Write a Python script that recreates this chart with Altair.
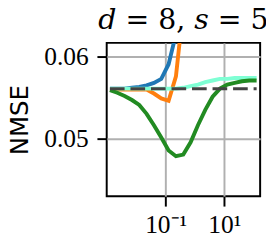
import altair as alt
import pandas as pd

# x positions (log scale)
x_vals = [0.001259, 0.002239, 0.003981, 0.007079, 0.012589, 0.022387, 0.039811,
          0.070795, 0.125893, 0.223872, 0.398107, 0.707946, 1.258925, 2.238721,
          3.981072, 7.079458, 12.589254, 22.387211, 39.810717, 70.794578, 125.892541]

blue_vals = [0.0561, 0.0561, 0.0561, 0.0562, 0.0563, 0.0565, 0.0568, 0.0573, 0.0591, 0.0628, 0.0750]
orange_vals = [0.0560, 0.0560, 0.0560, 0.0560, 0.0560, 0.0560, 0.0555, 0.0549, 0.0546, 0.0576, 0.0660]
cyan_vals = [0.0561, 0.0561, 0.0561, 0.0561, 0.0561, 0.0561, 0.0561, 0.0561, 0.0561, 0.0561,
             0.0562, 0.0564, 0.0566, 0.0569, 0.0571, 0.0573, 0.0573, 0.0574, 0.0574, 0.0574, 0.0574]
green_vals = [0.0559, 0.0556, 0.0552, 0.0547, 0.0541, 0.0530, 0.0516, 0.0501, 0.0485, 0.0478,
              0.0480, 0.0495, 0.0516, 0.0535, 0.0551, 0.0561, 0.0566, 0.0568, 0.0570, 0.0571, 0.0571]
baseline_val = 0.05608

title_text = "𝑑 = 8, 𝑠 = 5"
y_ticks = [0.05, 0.06]
x_ticks = [0.1, 10]
x_domain = [0.000977, 166.0]
y_domain = [0.04287, 0.06172]

series = [
    ("blue", blue_vals, "#1f77b4"),
    ("orange", orange_vals, "#ff7f0e"),
    ("cyan", cyan_vals, "#7fffd4"),
    ("green", green_vals, "#228b22"),
]

W, H = 157, 157

xs = alt.X("x:Q", scale=alt.Scale(type="log", domain=x_domain, nice=False),
           axis=alt.Axis(values=x_ticks, title=None,
                         labelExpr="datum.value < 1 ? '10⁻¹' : '10¹'",
                         labelPadding=6))
ys = alt.Y("y:Q", scale=alt.Scale(domain=y_domain, nice=False, zero=False),
           axis=alt.Axis(values=y_ticks, format=".2f", title="NMSE",
                         titleFont="DejaVu Sans", titleFontSize=25,
                         titleFontWeight="normal", titlePadding=12,
                         labelPadding=9))

layers = []
for name, vals, col in series:
    df = pd.DataFrame({"x": x_vals[:len(vals)], "y": vals})
    layers.append(
        alt.Chart(df).mark_line(color=col, strokeWidth=4, clip=True).encode(x=xs, y=ys)
    )

base_df = pd.DataFrame({"x": [x_vals[0], x_vals[-1]], "y": [baseline_val, baseline_val]})
layers.append(
    alt.Chart(base_df).mark_line(color="#444444", strokeWidth=3.2, strokeDash=[15, 6],
                                 clip=True).encode(x=xs, y=ys)
)

title_df = pd.DataFrame({"t": [title_text]})
layers.append(
    alt.Chart(title_df).mark_text(font="DejaVu Serif", fontSize=29, color="black",
                                  align="center", baseline="alphabetic").encode(
        text="t:N", x=alt.value(W / 2), y=alt.value(-14))
)

chart = alt.layer(*layers).properties(
    width=W, height=H,
    autosize=alt.AutoSizeParams(type="none"),
    padding={"left": 101, "top": 33, "right": 6, "bottom": 42},
).configure_view(stroke="black", strokeWidth=2).configure_axis(
    domain=False, tickColor="black", tickWidth=2, tickSize=10,
    grid=True, gridColor="#b0b0b0", gridWidth=2,
    labelFont="Liberation Serif", labelFontSize=26, labelColor="black",
    titleColor="black",
)

chart.save("out.html", embed_options={"renderer": "svg", "actions": False})
